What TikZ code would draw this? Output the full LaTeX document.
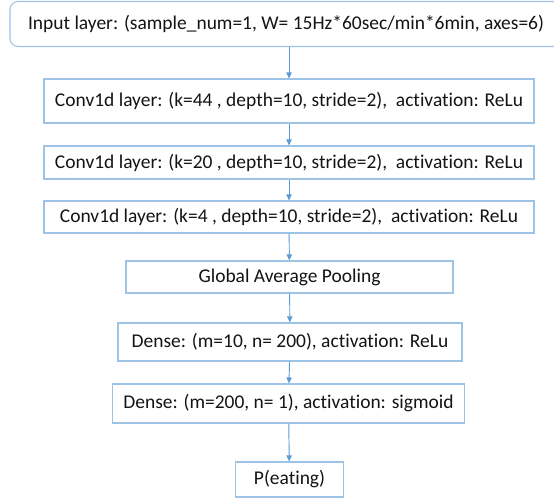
\documentclass[tikz,border=0pt]{standalone}
\usepackage{fontspec}
\setmainfont{Carlito}[Ligatures=NoCommon]
\usetikzlibrary{arrows.meta}
\definecolor{boxline}{HTML}{9DC3E6}
\definecolor{arrowline}{HTML}{5B9BD5}
\begin{document}
\begin{tikzpicture}[x=0.75pt,y=-0.75pt,
  layer/.style={draw=boxline, line width=0.8pt, fill=white, inner sep=0pt,
    font=\fontsize{14.6}{17}\selectfont, text=black!92},
  flow/.style={draw=arrowline, line width=0.7pt,
    -{Triangle[length=4.5pt,width=4pt]}}]
\useasboundingbox (0,0) rectangle (554,498);

% the input box runs past the right edge of the page
\node[layer, rounded corners=6pt, minimum width=414pt, minimum height=33.75pt]
  (in) at (286,24) {Input layer: (sample\_num=1, W= 15Hz*60sec/min*6min, axes=6)};
\node[layer, minimum width=367.5pt, minimum height=33pt]
  (c1) at (289,101) {Conv1d layer: (k=44 , depth=10, stride=2),\ \ activation: ReLu};
\node[layer, minimum width=367.5pt, minimum height=24.75pt]
  (c2) at (289,162.5) {Conv1d layer: (k=20 , depth=10, stride=2),\ \ activation: ReLu};
\node[layer, minimum width=367.5pt, minimum height=24pt]
  (c3) at (289,217) {Conv1d layer: (k=4 , depth=10, stride=2),\ \ activation: ReLu};
\node[layer, minimum width=245.25pt, minimum height=24pt]
  (gap) at (289.5,277) {Global Average Pooling};
\node[layer, minimum width=258pt, minimum height=28.5pt]
  (d1) at (290,342) {Dense: (m=10, n= 200), activation: ReLu};
\node[layer, minimum width=264pt, minimum height=29.25pt]
  (d2) at (288.5,403.5) {Dense: (m=200, n= 1), activation: sigmoid};
\node[layer, minimum width=81pt, minimum height=26.25pt]
  (out) at (289.5,479.5) {P(eating)};

\draw[flow] (in.south -| c1.north) -- (c1.north);
\draw[flow] (c1) -- (c2);
\draw[flow] (c2) -- (c3);
\draw[flow] (c3) -- (gap);
\draw[flow] (gap) -- (d1);
\draw[flow] (d1) -- (d2);
\draw[flow] (d2) -- (out);
\end{tikzpicture}
\end{document}
